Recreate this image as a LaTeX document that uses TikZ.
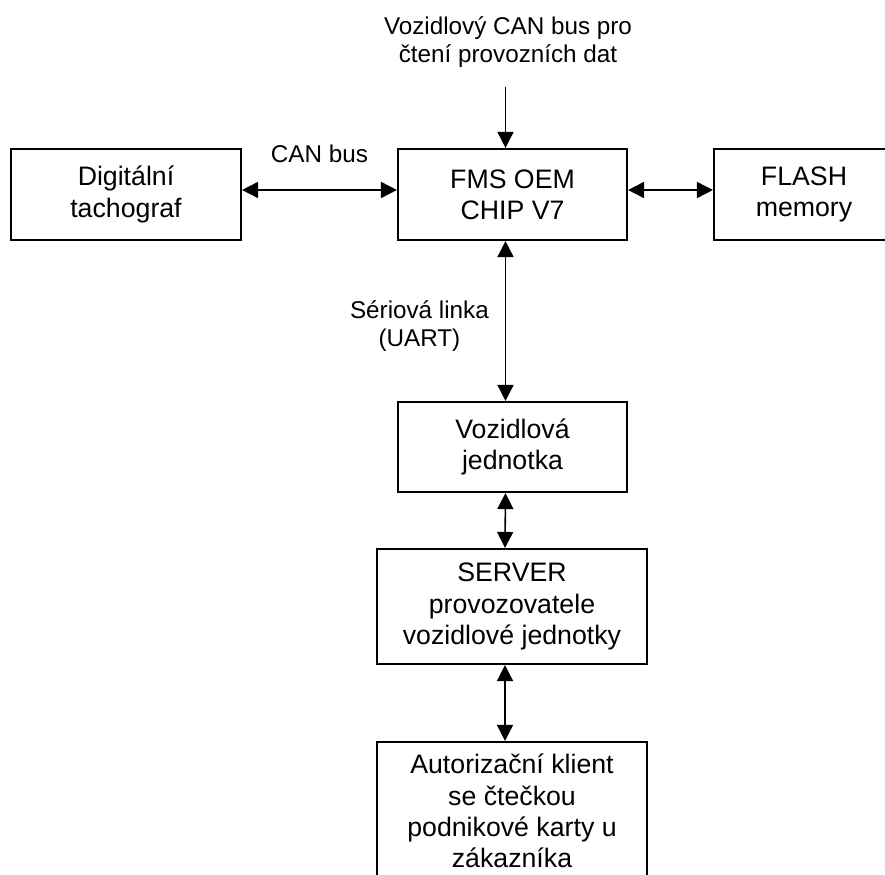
\documentclass[tikz,border=0pt]{standalone}
\usepackage{fontspec}
\setmainfont{Liberation Sans}
\usepackage{tikz}
\usetikzlibrary{positioning,arrows.meta}
\tikzset{
  blok/.style={draw,line width=1.2pt,align=center,inner sep=0pt,
    font=\fontsize{15.2}{17.8}\selectfont},
  popis/.style={align=center,font=\fontsize{13.8}{15.8}\selectfont}
}

\begin{document}
\begin{tikzpicture}[>={Triangle[length=3.2mm,width=3.2mm]},line width=0.9pt]
  \clip (0,0) rectangle (17.7,-17.5);
  \node[blok,minimum width=4.6cm,minimum height=1.82cm] (tacho) at (2.52,-3.89) {Digitální\\tachograf};
  \node[blok,minimum width=4.58cm,minimum height=1.82cm] (fms) at (10.25,-3.89) {FMS OEM\\CHIP V7};
  \node[blok,minimum width=3.6cm,minimum height=1.82cm] (flash) at (16.08,-3.89) {FLASH\\memory};
  \node[blok,minimum width=4.58cm,minimum height=1.8cm] (jednotka) at (10.25,-8.94) {Vozidlová\\jednotka};
  \node[blok,minimum width=5.4cm,minimum height=2.3cm] (server) at (10.24,-12.13) {SERVER\\provozovatele\\vozidlové jednotky};
  \node[blok,minimum width=5.4cm,minimum height=2.76cm] (klient) at (10.24,-16.22) {Autorizační klient\\se čtečkou\\podnikové karty u\\zákazníka};
  \node[popis] (canbus) at (10.16,-0.84) {Vozidlový CAN bus pro\\čtení provozních dat};
  \coordinate (canin) at (10.11,-1.74);
  \draw[->] (canin) -- ([xshift=-0.14cm]fms.north);
  \draw[<->] ([yshift=0.09cm]tacho.east) -- node[popis,above=0.42cm]{CAN bus} ([yshift=0.09cm]fms.west);
  \draw[<->] ([yshift=0.09cm]fms.east) -- ([yshift=0.09cm]flash.west);
  \draw[<->] ([xshift=-0.14cm]fms.south) -- node[popis,left=0.2cm,yshift=-0.1cm]{Sériová linka\\(UART)} ([xshift=-0.14cm]jednotka.north);
  \draw[<->] ([xshift=-0.14cm]jednotka.south) -- ([xshift=-0.14cm]server.north);
  \draw[<->] ([xshift=-0.14cm]server.south) -- ([xshift=-0.14cm]klient.north);
\end{tikzpicture}
\end{document}
